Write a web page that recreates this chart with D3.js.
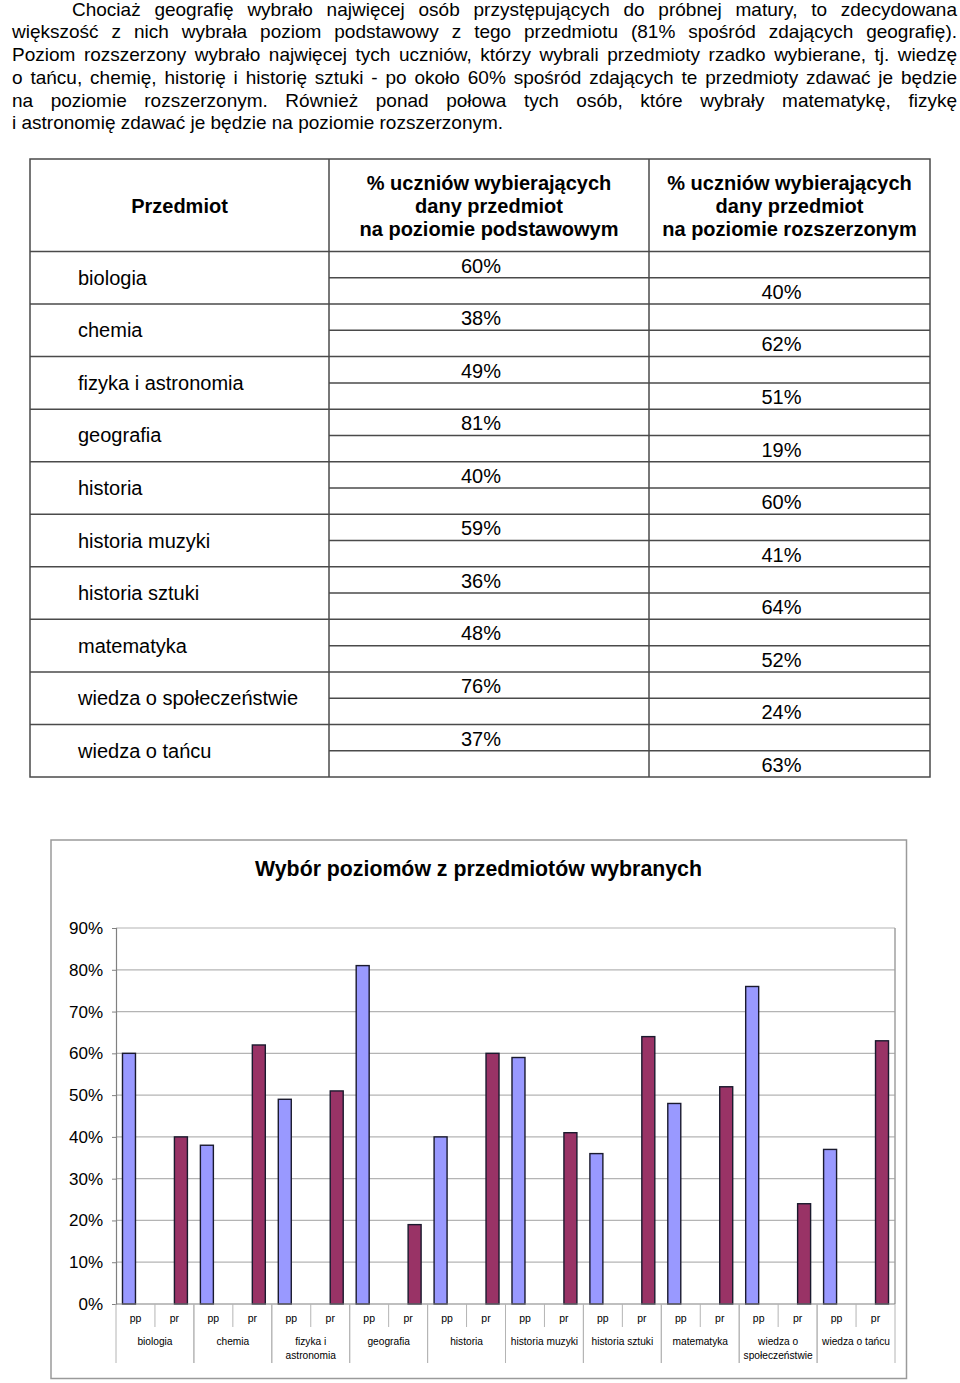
<!DOCTYPE html>
<html>
<head>
<meta charset="utf-8">
<script src="https://cdn.jsdelivr.net/npm/d3@7"></script>
<style>
  html, body { margin: 0; padding: 0; background: #fff; }
  body { width: 960px; height: 1383px; position: relative; overflow: hidden; font-family: "Liberation Sans", Arial, sans-serif; }
  #para { position: absolute; left: 12px; top: -1.5px; width: 945px; font-size: 19px; line-height: 22.8px; color: #000; }
  #para div { white-space: nowrap; text-align: justify; text-align-last: justify; }
  #para div.last { text-align-last: left; }
  #para div.first { padding-left: 60px; }
  svg { position: absolute; left: 0; top: 0; }
</style>
</head>
<body>
<div id="para"></div>
<svg id="chart" width="960" height="1383"></svg>
<script>
// ---------- data ----------
const paragraphLines = [
  "Chociaż geografię wybrało najwięcej osób przystępujących do próbnej matury, to zdecydowana",
  "większość z nich wybrała poziom podstawowy z tego przedmiotu (81% spośród zdających geografię).",
  "Poziom rozszerzony wybrało najwięcej tych uczniów, którzy wybrali przedmioty rzadko wybierane, tj. wiedzę",
  "o tańcu, chemię, historię i historię sztuki - po około 60% spośród zdających te przedmioty zdawać je będzie",
  "na poziomie rozszerzonym. Również ponad połowa tych osób, które wybrały matematykę, fizykę",
  "i astronomię zdawać je będzie na poziomie rozszerzonym."
];
const subjects = ["biologia", "chemia", "fizyka i astronomia", "geografia", "historia",
  "historia muzyki", "historia sztuki", "matematyka", "wiedza o społeczeństwie", "wiedza o tańcu"];
const subjectAxisLabels = [["biologia"], ["chemia"], ["fizyka i", "astronomia"], ["geografia"], ["historia"],
  ["historia muzyki"], ["historia sztuki"], ["matematyka"], ["wiedza o", "społeczeństwie"], ["wiedza o tańcu"]];
const ppValues = [60, 38, 49, 81, 40, 59, 36, 48, 76, 37];
const prValues = [40, 62, 51, 19, 60, 41, 64, 52, 24, 63];
const levels = ["pp", "pr"];
const headerCol1 = ["Przedmiot"];
const headerCol2 = ["% uczniów wybierających", "dany przedmiot", "na poziomie podstawowym"];
const headerCol3 = ["% uczniów wybierających", "dany przedmiot", "na poziomie rozszerzonym"];
const yTicks = [0, 10, 20, 30, 40, 50, 60, 70, 80, 90];
const chartTitle = "Wybór poziomów z przedmiotów wybranych";

// ---------- paragraph ----------
const para = d3.select("#para");
paragraphLines.forEach((t, i) => {
  para.append("div")
    .attr("class", (i === 0 ? "first " : "") + (i === paragraphLines.length - 1 ? "last" : ""))
    .text(t);
});

const svg = d3.select("#chart");
const FONT = "Liberation Sans, Arial, sans-serif";

// ---------- table ----------
const tX = [30, 329, 649, 930];
const tTop = 159, tHead = 251.5, tBottom = 777;
const rowY = d3.scaleBand().domain(subjects).range([tHead, tBottom]);
const tg = svg.append("g");
const lineCol = "#4a4a4a";
tg.append("rect").attr("x", tX[0]).attr("y", tTop).attr("width", tX[3] - tX[0]).attr("height", tBottom - tTop)
  .attr("fill", "none").attr("stroke", lineCol).attr("stroke-width", 1.5);
[tX[1], tX[2]].forEach(x => tg.append("line").attr("x1", x).attr("x2", x).attr("y1", tTop).attr("y2", tBottom)
  .attr("stroke", lineCol).attr("stroke-width", 1.5));
tg.append("line").attr("x1", tX[0]).attr("x2", tX[3]).attr("y1", tHead).attr("y2", tHead).attr("stroke", lineCol).attr("stroke-width", 1.5);
subjects.forEach((s, i) => {
  const y0 = rowY(s), h = rowY.bandwidth();
  if (i > 0) tg.append("line").attr("x1", tX[0]).attr("x2", tX[3]).attr("y1", y0).attr("y2", y0).attr("stroke", lineCol).attr("stroke-width", 1.5);
  tg.append("line").attr("x1", tX[1]).attr("x2", tX[3]).attr("y1", y0 + h / 2).attr("y2", y0 + h / 2).attr("stroke", lineCol).attr("stroke-width", 1.5);
  tg.append("text").attr("x", 78).attr("y", y0 + h / 2).attr("dy", "0.35em")
    .attr("font-family", FONT).attr("font-size", 20).text(s);
  tg.append("text").attr("x", (tX[1] + tX[2]) / 2 - 8).attr("y", y0 + h / 4 + 1).attr("dy", "0.35em")
    .attr("text-anchor", "middle").attr("font-family", FONT).attr("font-size", 20).text(ppValues[i] + "%");
  tg.append("text").attr("x", (tX[2] + tX[3]) / 2 - 8).attr("y", y0 + 3 * h / 4 + 1).attr("dy", "0.35em")
    .attr("text-anchor", "middle").attr("font-family", FONT).attr("font-size", 20).text(prValues[i] + "%");
});
function headerText(lines, cx) {
  const mid = (tTop + tHead) / 2 + 1, lh = 22.8;
  lines.forEach((l, i) => {
    tg.append("text").attr("x", cx).attr("y", mid + (i - (lines.length - 1) / 2) * lh).attr("dy", "0.35em")
      .attr("text-anchor", "middle").attr("font-family", FONT).attr("font-size", 20).attr("font-weight", "bold").text(l);
  });
}
headerText(headerCol1, (tX[0] + tX[1]) / 2);
headerText(headerCol2, (tX[1] + tX[2]) / 2);
headerText(headerCol3, (tX[2] + tX[3]) / 2);

// ---------- chart ----------
const cg = svg.append("g");
cg.append("rect").attr("x", 51).attr("y", 840).attr("width", 855.5).attr("height", 538.5)
  .attr("fill", "#fff").attr("stroke", "#9a9a9a").attr("stroke-width", 1.5);
cg.append("text").attr("x", 478.5).attr("y", 869).attr("dy", "0.35em").attr("text-anchor", "middle")
  .attr("font-family", FONT).attr("font-size", 21.3).attr("font-weight", "bold").text(chartTitle);

const plotL = 116, plotR = 895, plotT = 928, plotB = 1304;
const cats = [];
subjects.forEach(s => levels.forEach(l => cats.push(s + "|" + l)));
const x = d3.scaleBand().domain(cats).range([plotL, plotR]).padding(0);
const xSub = d3.scaleBand().domain(levels).range([0, x.bandwidth()]).paddingInner(0).paddingOuter(0.5);
const y = d3.scaleLinear().domain([0, 90]).range([plotB, plotT]);

cg.append("g").selectAll("line").data(yTicks.filter(d => d > 0)).join("line")
  .attr("x1", plotL).attr("x2", plotR).attr("y1", d => y(d)).attr("y2", d => y(d))
  .attr("stroke", "#b4b4b4").attr("stroke-width", 1.2);
cg.append("line").attr("x1", plotR).attr("x2", plotR).attr("y1", plotT).attr("y2", plotB)
  .attr("stroke", "#a0a0a0").attr("stroke-width", 1.5);

const yAxis = d3.axisLeft(y).tickValues(yTicks).tickFormat(d => d + "%").tickSize(4).tickPadding(9);
const ya = cg.append("g").attr("transform", `translate(${plotL},0)`).call(yAxis);
ya.select(".domain").attr("stroke", "#808080").attr("stroke-width", 1.2);
ya.selectAll(".tick line").attr("stroke", "#808080");
ya.selectAll("text").attr("font-family", FONT).attr("font-size", 17).attr("fill", "#000");

const barData = [];
subjects.forEach((s, i) => {
  barData.push({ cat: s + "|pp", level: "pp", v: ppValues[i] });
  barData.push({ cat: s + "|pr", level: "pr", v: prValues[i] });
});
const colors = { pp: "#9999ff", pr: "#993366" };
cg.append("g").selectAll("rect").data(barData).join("rect")
  .attr("x", d => x(d.cat) + xSub(d.level))
  .attr("width", xSub.bandwidth())
  .attr("y", d => y(d.v))
  .attr("height", d => y(0) - y(d.v))
  .attr("fill", d => colors[d.level])
  .attr("stroke", "#1a1a2e").attr("stroke-width", 1.4);

cg.append("line").attr("x1", plotL).attr("x2", plotR).attr("y1", plotB).attr("y2", plotB)
  .attr("stroke", "#808080").attr("stroke-width", 1.2);

const xg = cg.append("g");
cats.forEach((c, j) => {
  const lvl = c.split("|")[1];
  xg.append("text").attr("x", x(c) + x.bandwidth() / 2).attr("y", 1318).attr("dy", "0.35em")
    .attr("text-anchor", "middle").attr("font-family", FONT).attr("font-size", 10.5).attr("fill", "#000").text(lvl);
  if (lvl === "pr") {
    xg.append("line").attr("x1", x(c)).attr("x2", x(c)).attr("y1", plotB).attr("y2", 1327)
      .attr("stroke", "#b4b4b4").attr("stroke-width", 1);
  }
});
subjects.forEach((s, i) => {
  const x0 = x(s + "|pp"), x1 = x(s + "|pr") + x.bandwidth();
  [x0, x1].forEach(xx => xg.append("line").attr("x1", xx).attr("x2", xx).attr("y1", plotB).attr("y2", 1363)
    .attr("stroke", "#b4b4b4").attr("stroke-width", 1));
  subjectAxisLabels[i].forEach((l, k) => {
    xg.append("text").attr("x", (x0 + x1) / 2).attr("y", 1341 + k * 14.5).attr("dy", "0.35em")
      .attr("text-anchor", "middle").attr("font-family", FONT).attr("font-size", 10.2).attr("fill", "#000").text(l);
  });
});
</script>
</body>
</html>
